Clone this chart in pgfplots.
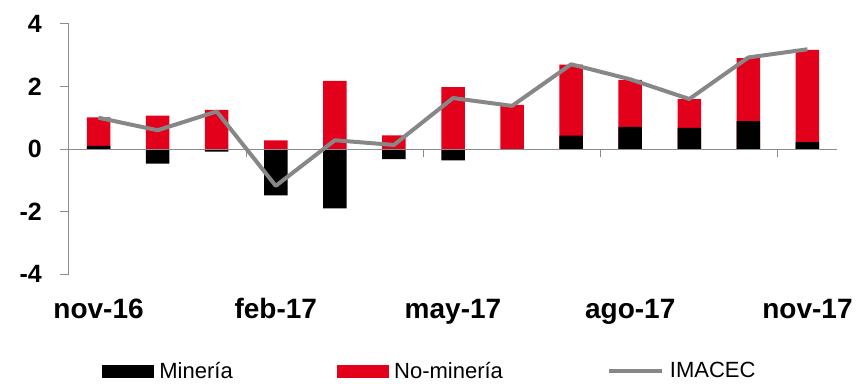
\documentclass[border=0pt]{standalone}
\usepackage{pgfplots}
\pgfplotsset{compat=1.18}
\usepackage{pgfplotstable}
\usepackage{fontspec}
\setmainfont{Liberation Sans}
\definecolor{barred}{HTML}{E2001A}
\definecolor{linegray}{HTML}{878787}
\definecolor{axgray}{HTML}{8C8C8C}
\pgfplotstableread{
x min nomin imacec
0 0.10 0.91 1.00
1 -0.47 1.07 0.60
2 -0.08 1.25 1.20
3 -1.48 0.28 -1.18
4 -1.90 2.18 0.28
5 -0.32 0.44 0.13
6 -0.36 1.98 1.63
7 0.00 1.41 1.38
8 0.43 2.27 2.71
9 0.71 1.50 2.23
10 0.68 0.92 1.60
11 0.89 2.02 2.93
12 0.22 2.95 3.19
}\datatable
\begin{document}
\begin{tikzpicture}
\path[use as bounding box] (-69pt,-109pt) rectangle (790pt,274pt);
\begin{axis}[
  scale only axis,
  width=768pt, height=250pt,
  xmin=-0.5, xmax=12.5,
  ymin=-4, ymax=4,
  axis x line=none,
  axis y line*=left,
  y axis line style={axgray, line width=1pt, -},
  ytick={-4,-2,0,2,4},
  ytick style={axgray, line width=1pt},
  tick align=outside,
  major tick length=9pt,
  /pgf/number format/assume math mode=true,
  yticklabel style={font=\bfseries\fontsize{25}{25}\selectfont, inner sep=0pt, anchor=east, xshift=-18pt},
  clip=false,
  legend columns=3,
  legend style={at={(0.043,-0.388)}, anchor=west, draw=none, fill=none,
    font=\fontsize{22}{22}\selectfont, inner sep=0pt, outer sep=0pt,
    nodes={inner sep=0pt, outer sep=0pt},
    /tikz/every odd column/.append style={column sep=6pt},
    /tikz/every even column/.append style={column sep=104pt}},
]
\addplot[ybar, bar width=23.5pt, bar shift=0pt, fill=barred, draw=none, forget plot]
  table[x=x, y expr={\thisrow{nomin}+max(\thisrow{min},0)}] {\datatable};
\addplot[ybar, bar width=23.5pt, bar shift=0pt, fill=black, draw=none, forget plot]
  table[x=x, y=min] {\datatable};
\draw[axgray, line width=1pt] (axis cs:-0.5,0) -- (axis cs:12.5,0);
\pgfplotsinvokeforeach{2.5,5.5,8.5,11.5}{\draw[axgray, line width=1pt] (axis cs:#1,0) -- ([yshift=-8pt]axis cs:#1,0);}
\node[anchor=base, font=\bfseries\fontsize{28}{28}\selectfont, inner sep=0pt] at ([yshift=-44pt]axis cs:0,-4) {nov-16};
\node[anchor=base, font=\bfseries\fontsize{28}{28}\selectfont, inner sep=0pt] at ([yshift=-44pt]axis cs:3,-4) {feb-17};
\node[anchor=base, font=\bfseries\fontsize{28}{28}\selectfont, inner sep=0pt] at ([yshift=-44pt]axis cs:6,-4) {may-17};
\node[anchor=base, font=\bfseries\fontsize{28}{28}\selectfont, inner sep=0pt] at ([yshift=-44pt]axis cs:9,-4) {ago-17};
\node[anchor=base, font=\bfseries\fontsize{28}{28}\selectfont, inner sep=0pt] at ([yshift=-44pt]axis cs:12,-4) {nov-17};
\addplot[linegray, line width=4pt, line join=round, forget plot] table[x=x, y=imacec] {\datatable};
\addlegendimage{area legend, legend image code/.code={\fill[black] (0pt,-6pt) rectangle (51pt,6pt);}}
\addlegendentry{Minería}
\addlegendimage{area legend, legend image code/.code={\fill[barred] (0pt,-6pt) rectangle (51pt,6pt);}}
\addlegendentry{No-minería\hspace{9pt}}
\addlegendimage{legend image code/.code={\draw[linegray, line width=4pt] (0pt,0pt) -- (53pt,0pt);}}
\addlegendentry{IMACEC}
\end{axis}
\end{tikzpicture}
\end{document}
